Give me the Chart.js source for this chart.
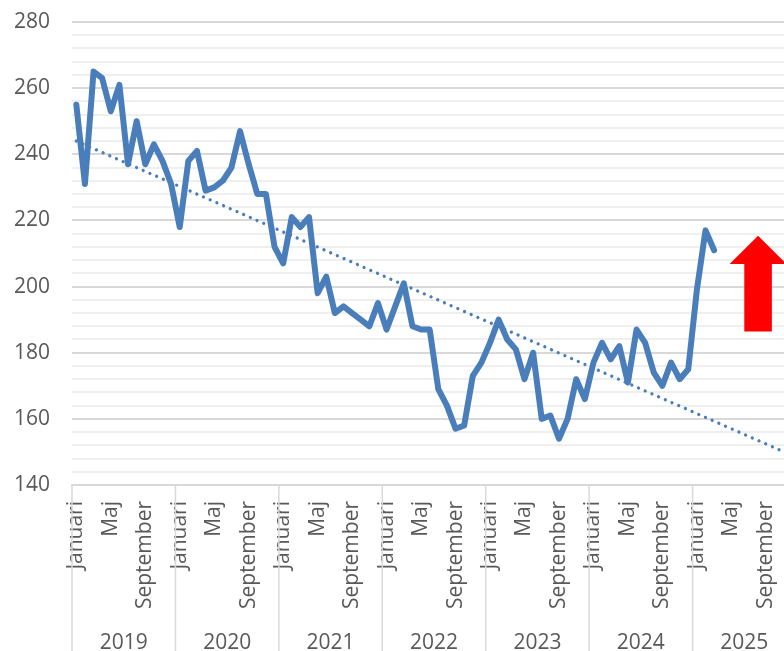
<!DOCTYPE html>
<html>
<head>
<meta charset="utf-8">
<script src="https://cdn.jsdelivr.net/npm/chart.js@4/dist/chart.umd.min.js"></script>
<style>
  html, body { margin: 0; padding: 0; background: #ffffff; overflow: hidden; width: 784px; height: 651px; }
  #wrap { position: absolute; left: 0; top: 0; width: 796px; height: 651px; }
</style>
</head>
<body>
<div id="wrap"><canvas id="c"></canvas></div>
<script>
// ---- data ----
const years = ['2019', '2020', '2021', '2022', '2023', '2024', '2025'];
const monthNames = ['Januari', 'Februari', 'Mars', 'April', 'Maj', 'Juni', 'Juli',
  'Augusti', 'September', 'Oktober', 'November', 'December'];
const v2019 = [255, 231, 265, 263, 253, 261, 237, 250, 237, 243, 238, 231];
const v2020 = [218, 238, 241, 229, 230, 232, 236, 247, 237, 228, 228, 212];
const v2021 = [207, 221, 218, 221, 198, 203, 192, 194, 192, 190, 188, 195];
const v2022 = [187, 194, 201, 188, 187, 187, 169, 164, 157, 158, 173, 177];
const v2023 = [183, 190, 184, 181, 172, 180, 160, 161, 154, 160, 172, 166];
const v2024 = [177, 183, 178, 182, 171, 187, 183, 174, 170, 177, 172, 175];
const v2025 = [199, 217, 211];
const trendStart = 244;   // trend value, Januari 2019
const trendEnd = 149;     // trend value, December 2025
const yTickMin = 140, yTickMax = 280, yLabelStep = 20, yGridStep = 4;
// arrow annotation (in data units: month index / value)
const arrowSpec = { center: 79.1, tip: 215.4, headBase: 206.8, tail: 186.4, headHalf: 3.3, shaftHalf: 1.6 };

const monthKeys = years.flatMap(y => monthNames.map((m, k) => y + '-' + String(k + 1).padStart(2, '0')));
const values = [].concat(v2019, v2020, v2021, v2022, v2023, v2024, v2025);

Chart.defaults.font.family = "'Open Sans', sans-serif";
Chart.defaults.color = '#595959';

const yearSeparators = {
  id: 'yearSeparators',
  afterDraw(chart) {
    const xs = chart.scales.x;
    const ctx = chart.ctx;
    const half = (xs.getPixelForValue(1) - xs.getPixelForValue(0)) / 2;
    ctx.save();
    ctx.strokeStyle = '#d9d9d9';
    ctx.lineWidth = 1.5;
    years.forEach((y, k) => {
      const px = xs.getPixelForValue(k * 12) - half;
      ctx.beginPath();
      ctx.moveTo(px, chart.chartArea.bottom);
      ctx.lineTo(px, chart.height);
      ctx.stroke();
    });
    ctx.restore();
  }
};

const upArrow = {
  id: 'upArrow',
  afterDatasetsDraw(chart) {
    const xs = chart.scales.x, ys = chart.scales.y, ctx = chart.ctx;
    const cx = xs.getPixelForValue(arrowSpec.center);
    const unit = xs.getPixelForValue(1) - xs.getPixelForValue(0);
    const hh = arrowSpec.headHalf * unit, sh = arrowSpec.shaftHalf * unit;
    const yTip = ys.getPixelForValue(arrowSpec.tip);
    const yBase = ys.getPixelForValue(arrowSpec.headBase);
    const yTail = ys.getPixelForValue(arrowSpec.tail);
    ctx.save();
    ctx.fillStyle = '#ff0000';
    ctx.beginPath();
    ctx.moveTo(cx, yTip);
    ctx.lineTo(cx + hh, yBase);
    ctx.lineTo(cx + sh, yBase);
    ctx.lineTo(cx + sh, yTail);
    ctx.lineTo(cx - sh, yTail);
    ctx.lineTo(cx - sh, yBase);
    ctx.lineTo(cx - hh, yBase);
    ctx.closePath();
    ctx.fill();
    ctx.restore();
  }
};

new Chart(document.getElementById('c'), {
  type: 'line',
  data: {
    labels: monthKeys,
    datasets: [
      {
        label: 'Trend',
        data: [{ x: monthKeys[0], y: trendStart }, { x: monthKeys[monthKeys.length - 1], y: trendEnd }],
        borderColor: '#4a7ebb',
        borderWidth: 3.3,
        borderDash: [0.01, 7.3],
        borderCapStyle: 'round',
        pointRadius: 0,
        fill: false,
        order: 0
      },
      {
        label: 'Värde',
        data: values,
        borderColor: '#4a7ebb',
        borderWidth: 6,
        borderJoinStyle: 'round',
        borderCapStyle: 'round',
        pointRadius: 0,
        tension: 0,
        fill: false,
        order: 1
      }
    ]
  },
  options: {
    responsive: true,
    maintainAspectRatio: false,
    animation: false,
    events: [],
    layout: { padding: { top: 22, right: 0, left: 0, bottom: 0 } },
    plugins: { legend: { display: false }, tooltip: { enabled: false } },
    scales: {
      y: {
        min: yTickMin,
        max: yTickMax,
        afterFit(s) { s.width = 72; s.paddingTop = 0; s.paddingBottom = 0; },
        border: { display: false },
        grid: {
          drawTicks: false,
          lineWidth: 2,
          color: c => (c.tick && c.tick.value % yLabelStep === 0) ? '#d9d9d9' : '#efefef'
        },
        ticks: {
          stepSize: yGridStep,
          autoSkip: false,
          maxTicksLimit: 100,
          padding: 22,
          font: { size: 21 },
          color: '#595959',
          callback: v => (v % yLabelStep === 0 ? String(v) : '')
        }
      },
      x: {
        type: 'category',
        offset: true,
        afterFit(s) { s.height = 130; s.paddingLeft = 0; s.paddingRight = 0; },
        border: { display: true, color: '#d9d9d9', width: 2 },
        grid: { display: false, drawTicks: false },
        ticks: {
          autoSkip: false,
          minRotation: 90,
          maxRotation: 90,
          padding: 16,
          font: { size: 21 },
          color: '#595959',
          callback: (val, i) => (i % 4 === 0 ? monthNames[i % 12] : null)
        }
      },
      x2: {
        type: 'category',
        labels: years,
        position: 'bottom',
        offset: true,
        afterFit(s) { s.height = 36; s.paddingLeft = 0; s.paddingRight = 0; },
        border: { display: false },
        grid: { display: false, drawTicks: false },
        ticks: {
          autoSkip: false,
          maxRotation: 0,
          padding: 15,
          font: { size: 21 },
          color: '#595959'
        }
      }
    }
  },
  plugins: [yearSeparators, upArrow]
});
</script>
</body>
</html>
